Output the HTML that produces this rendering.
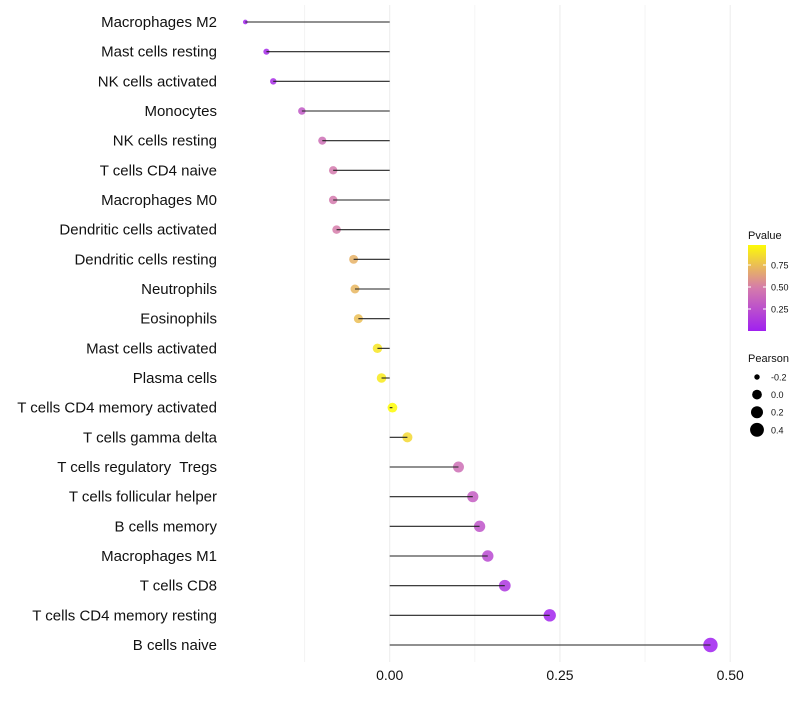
<!DOCTYPE html>
<html><head><meta charset="utf-8"><style>
body{margin:0;background:#fff;}
svg text{font-family:"Liberation Sans",sans-serif;}
</style></head><body>
<svg id="chart" width="800" height="700"></svg>
<script>
const categories=["Macrophages M2","Mast cells resting","NK cells activated","Monocytes","NK cells resting","T cells CD4 naive","Macrophages M0","Dendritic cells activated","Dendritic cells resting","Neutrophils","Eosinophils","Mast cells activated","Plasma cells","T cells CD4 memory activated","T cells gamma delta","T cells regulatory\u00a0 Tregs","T cells follicular helper","B cells memory","Macrophages M1","T cells CD8","T cells CD4 memory resting","B cells naive"];
const pearson=[-0.212,-0.181,-0.171,-0.129,-0.099,-0.083,-0.083,-0.078,-0.053,-0.051,-0.046,-0.018,-0.012,0.004,0.026,0.101,0.122,0.132,0.144,0.169,0.235,0.471];
const pvalues=[0.02,0.05,0.07,0.3,0.42,0.48,0.48,0.5,0.7,0.72,0.75,0.9,0.92,0.99,0.85,0.42,0.33,0.28,0.22,0.12,0.02,0.0];
const xTicks=[0,0.25,0.5];
const xTickLabels=["0.00","0.25","0.50"];
const pTicks=[0.25,0.5,0.75];
const sizeLegend=[-0.2,0,0.2,0.4];

const NS="http://www.w3.org/2000/svg";
const svg=document.getElementById('chart');
function mk(tag,attrs,parent){const e=document.createElementNS(NS,tag);for(const k in attrs)e.setAttribute(k,attrs[k]);(parent||svg).appendChild(e);return e;}
const xScale=v=>389.7+v*681;
const yScale=i=>22+i*(623/21);
const rScale=v=>1.8+Math.sqrt(Math.max(0,(v+0.22)))*6.5;
function lerp(a,b,t){return a+(b-a)*t;}
const stops=[[0,[160,32,240]],[0.5,[214,125,170]],[1,[255,255,0]]];
function color(p){p=Math.max(0,Math.min(1,p));let i=p<=0.5?0:1;const [a,ca]=stops[i],[b,cb]=stops[i+1];const t=(p-a)/(b-a);return `rgb(${Math.round(lerp(ca[0],cb[0],t))},${Math.round(lerp(ca[1],cb[1],t))},${Math.round(lerp(ca[2],cb[2],t))})`;}

[-0.125,0,0.125,0.25,0.375,0.5].forEach((v,i)=>{
  const g=mk('line',{x1:xScale(v),x2:xScale(v),y1:5,y2:662,stroke:(i%2?'#ececec':'#f4f4f4'),'stroke-width':1});
  
  
});
xTicks.forEach((v,i)=>{
  const t=mk('text',{x:xScale(v),y:680,'text-anchor':'middle','font-size':14,fill:'#111'});
  t.textContent=xTickLabels[i];
  
  
});
categories.forEach((c,i)=>{
  const y=yScale(i);
  const t=mk('text',{x:217,y:y+5,'text-anchor':'end','font-size':15,fill:'#111'});
  t.textContent=c;
  
  
  const dot=mk('circle',{cx:xScale(pearson[i]),cy:y,r:rScale(pearson[i]),fill:color(pvalues[i]),'fill-opacity':0.85});
  
  
  const ln=mk('line',{x1:xScale(0),x2:xScale(pearson[i]),y1:y,y2:y,stroke:'#222','stroke-width':1.1});
  
  
});
const defs=mk('defs',{});
const grad=mk('linearGradient',{id:'pg',x1:0,y1:1,x2:0,y2:0},defs);
[0,0.25,0.5,0.75,1].forEach(p=>mk('stop',{offset:p,'stop-color':color(p*0.98)},grad));
const lt=mk('text',{x:748,y:239,'font-size':11,fill:'#111'});lt.textContent='Pvalue';


const bar=mk('rect',{x:748,y:245,width:18,height:86,fill:'url(#pg)'});


const pY=p=>331-p*88;
pTicks.forEach(p=>{
  mk('line',{x1:748,x2:751,y1:pY(p),y2:pY(p),stroke:'#fff'});
  mk('line',{x1:763,x2:766,y1:pY(p),y2:pY(p),stroke:'#fff'});
  const t=mk('text',{x:771,y:pY(p)+3.5,'font-size':9,fill:'#111'});t.textContent=p.toFixed(2);
  
  
});
const st=mk('text',{x:748,y:362,'font-size':11,fill:'#111'});st.textContent='Pearson';


sizeLegend.forEach((v,i)=>{
  const y=377+i*17.6;
  const c=mk('circle',{cx:757,cy:y,r:rScale(v),fill:'#000'});
  
  
  const t=mk('text',{x:771,y:y+3.5,'font-size':9,fill:'#111'});t.textContent=v.toFixed(1);
  
  
});
</script>
</body></html>
